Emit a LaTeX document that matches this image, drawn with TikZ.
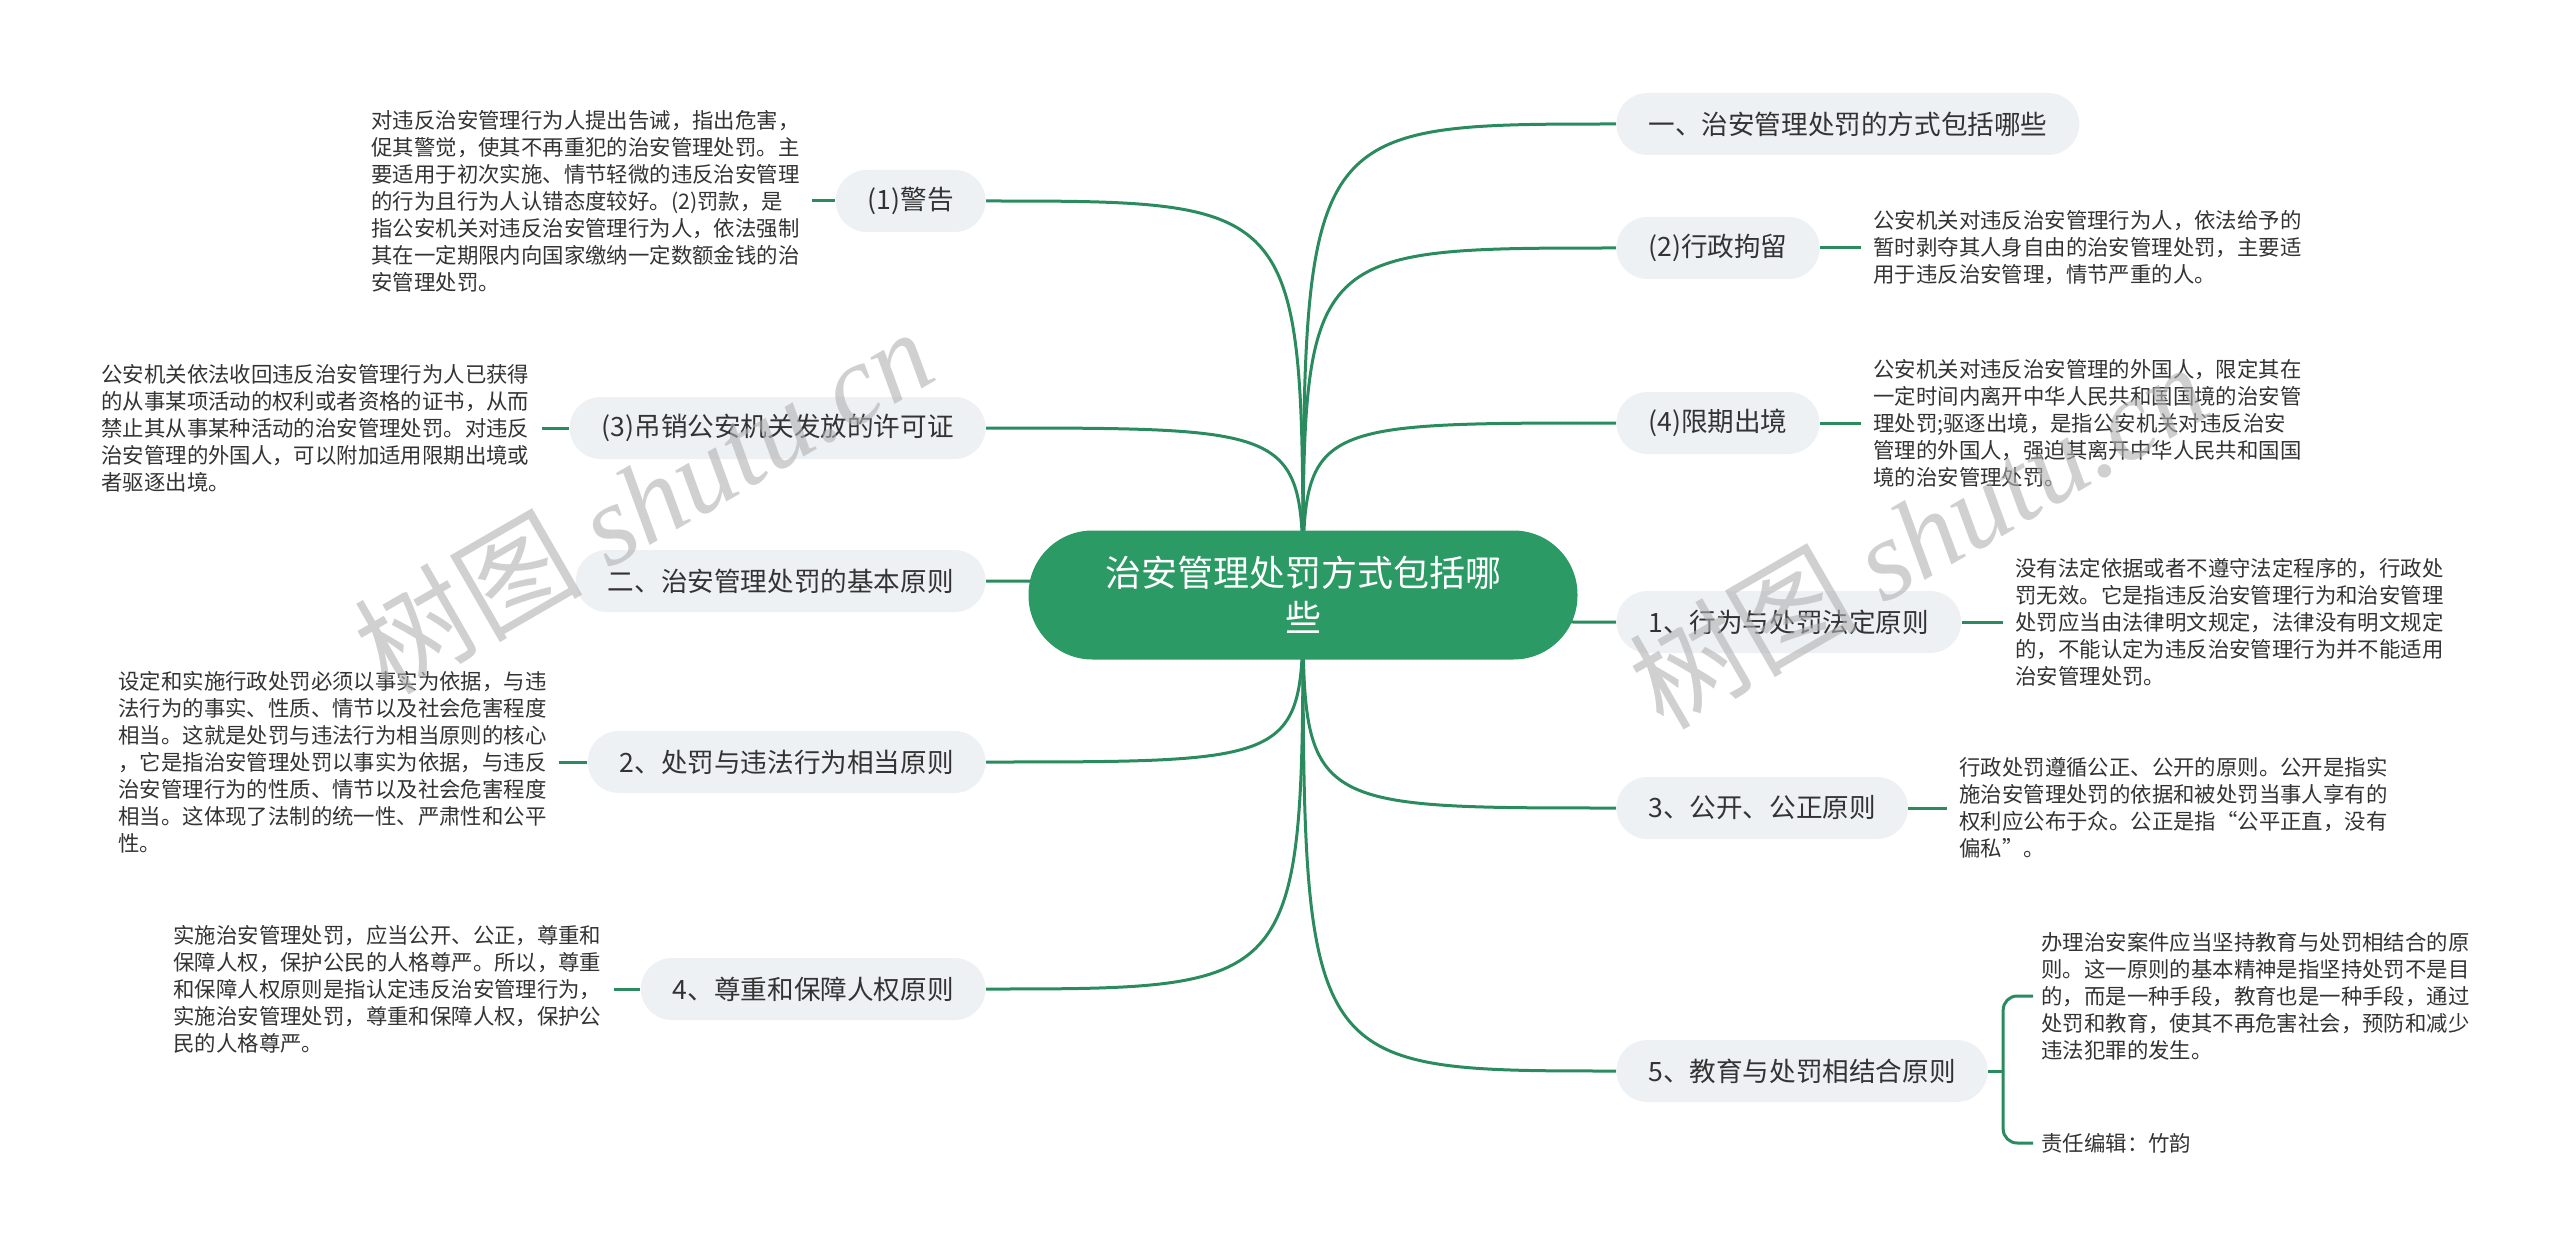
\documentclass[tikz,border=0pt]{standalone}
\usepackage{fontspec}
\setmainfont{Noto Sans CJK SC}
\newfontfamily\wmserif{Liberation Serif}
\usetikzlibrary{calc}
\definecolor{cgreen}{HTML}{2B9A64}
\definecolor{lgreen}{HTML}{2A8C5E}
\definecolor{bfill}{HTML}{EEF1F4}
\definecolor{tdark}{HTML}{333333}
\definecolor{wmgray}{HTML}{B0B0B0}
\pgfdeclarelayer{bg}
\pgfsetlayers{bg,main}
\tikzset{
  branch/.style={rounded corners=15.5pt, fill=bfill, inner xsep=16pt, inner ysep=0pt,
    minimum height=31pt, font=\fontsize{13.3pt}{16pt}\selectfont, text=tdark},
  detail/.style={align=left, inner sep=0pt, font=\fontsize{10.7pt}{13.5pt}\selectfont, text=tdark},
  hubnode/.style={fill=cgreen, text=white, rounded corners=32pt, minimum width=274.5pt,
    minimum height=64.5pt, align=center, font=\fontsize{18pt}{22.5pt}\selectfont},
  conn/.style={draw=lgreen, line width=1.5pt},
  wmark/.style={text=wmgray, opacity=0.6, rotate=30, inner sep=0pt}
}
\begin{document}
\begin{tikzpicture}[x=0.5pt,y=-0.5pt]
\useasboundingbox (0,0) rectangle (2560,1257);

% hub
\node[hubnode] (hub) at (1303,595) {治安管理处罚方式包括哪\\些};

% right branches
\node[branch, anchor=west] (r1) at (1616,124) {一、治安管理处罚的方式包括哪些};
\node[branch, anchor=west] (r2) at (1616,248) {(2)行政拘留};
\node[branch, anchor=west] (r3) at (1616,423) {(4)限期出境};
\node[branch, anchor=west] (r4) at (1616,622) {1、行为与处罚法定原则};
\node[branch, anchor=west] (r5) at (1616,808) {3、公开、公正原则};
\node[branch, anchor=west] (r6) at (1616,1071) {5、教育与处罚相结合原则};

% left branches
\node[branch, anchor=east] (l1) at (986,201) {(1)警告};
\node[branch, anchor=east] (l2) at (986,428) {(3)吊销公安机关发放的许可证};
\node[branch, anchor=east] (l3) at (986,581) {二、治安管理处罚的基本原则};
\node[branch, anchor=east] (l4) at (986,762) {2、处罚与违法行为相当原则};
\node[branch, anchor=east] (l5) at (986,989) {4、尊重和保障人权原则};

% details left
\node[detail, anchor=west] (dl1) at (371,201) {对违反治安管理行为人提出告诫，指出危害，\\促其警觉，使其不再重犯的治安管理处罚。主\\要适用于初次实施、情节轻微的违反治安管理\\的行为且行为人认错态度较好。(2)罚款，是\\指公安机关对违反治安管理行为人，依法强制\\其在一定期限内向国家缴纳一定数额金钱的治\\安管理处罚。};
\node[detail, anchor=west] (dl2) at (101,428) {公安机关依法收回违反治安管理行为人已获得\\的从事某项活动的权利或者资格的证书，从而\\禁止其从事某种活动的治安管理处罚。对违反\\治安管理的外国人，可以附加适用限期出境或\\者驱逐出境。};
\node[detail, anchor=west] (dl4) at (118,762) {设定和实施行政处罚必须以事实为依据，与违\\法行为的事实、性质、情节以及社会危害程度\\相当。这就是处罚与违法行为相当原则的核心\\，它是指治安管理处罚以事实为依据，与违反\\治安管理行为的性质、情节以及社会危害程度\\相当。这体现了法制的统一性、严肃性和公平\\性。};
\node[detail, anchor=west] (dl5) at (173,989) {实施治安管理处罚，应当公开、公正，尊重和\\保障人权，保护公民的人格尊严。所以，尊重\\和保障人权原则是指认定违反治安管理行为，\\实施治安管理处罚，尊重和保障人权，保护公\\民的人格尊严。};

% details right
\node[detail, anchor=west] (dr2) at (1873,248) {公安机关对违反治安管理行为人，依法给予的\\暂时剥夺其人身自由的治安管理处罚，主要适\\用于违反治安管理，情节严重的人。};
\node[detail, anchor=west] (dr3) at (1873,423) {公安机关对违反治安管理的外国人，限定其在\\一定时间内离开中华人民共和国国境的治安管\\理处罚;驱逐出境，是指公安机关对违反治安\\管理的外国人，强迫其离开中华人民共和国国\\境的治安管理处罚。};
\node[detail, anchor=west] (dr4) at (2015,622) {没有法定依据或者不遵守法定程序的，行政处\\罚无效。它是指违反治安管理行为和治安管理\\处罚应当由法律明文规定，法律没有明文规定\\的，不能认定为违反治安管理行为并不能适用\\治安管理处罚。};
\node[detail, anchor=west] (dr5) at (1959,808) {行政处罚遵循公正、公开的原则。公开是指实\\施治安管理处罚的依据和被处罚当事人享有的\\权利应公布于众。公正是指“公平正直，没有\\偏私”。};
\node[detail, anchor=west] (dr6) at (2041,996) {办理治安案件应当坚持教育与处罚相结合的原\\则。这一原则的基本精神是指坚持处罚不是目\\的，而是一种手段，教育也是一种手段，通过\\处罚和教育，使其不再危害社会，预防和减少\\违法犯罪的发生。};
\node[detail, anchor=west] (ed) at (2041,1143) {责任编辑：竹韵};

\begin{pgfonlayer}{bg}
% hub connectors
\foreach \n in {r1,r2,r3,r4,r5,r6}{
  \draw[conn] (hub.center) .. controls (hub.center |- \n.west) .. (\n.west);
}
\foreach \n in {l1,l2,l3,l4,l5}{
  \draw[conn] (hub.center) .. controls (hub.center |- \n.east) .. (\n.east);
}
\end{pgfonlayer}

% detail connectors
\draw[conn] ([xshift=6pt]dl1.east) -- (l1.west);
\draw[conn] ([xshift=6pt]dl2.east) -- (l2.west);
\draw[conn] ([xshift=6pt]dl4.east) -- (l4.west);
\draw[conn] ([xshift=6pt]dl5.east) -- (l5.west);
\draw[conn] (r2.east) -- ([xshift=-6pt]dr2.west);
\draw[conn] (r3.east) -- ([xshift=-6pt]dr3.west);
\draw[conn] (r4.east) -- ([xshift=-6pt]dr4.west);
\draw[conn] (r5.east) -- ([xshift=-6pt]dr5.west);
\draw[conn] (r6.east) -- ++(15,0) coordinate (bk);
\draw[conn, rounded corners=7pt] (bk) |- ([xshift=-4pt]dr6.west);
\draw[conn, rounded corners=7pt] (bk) |- ([xshift=-4pt]ed.west);

% watermarks
\node[wmark] (wm1) at (643,500) {\fontsize{57pt}{60pt}\selectfont 树图 {\wmserif\itshape shutu.cn}};
\node[wmark] (wm2) at (1918,535) {\fontsize{57pt}{60pt}\selectfont 树图 {\wmserif\itshape shutu.cn}};
\end{tikzpicture}
\end{document}
